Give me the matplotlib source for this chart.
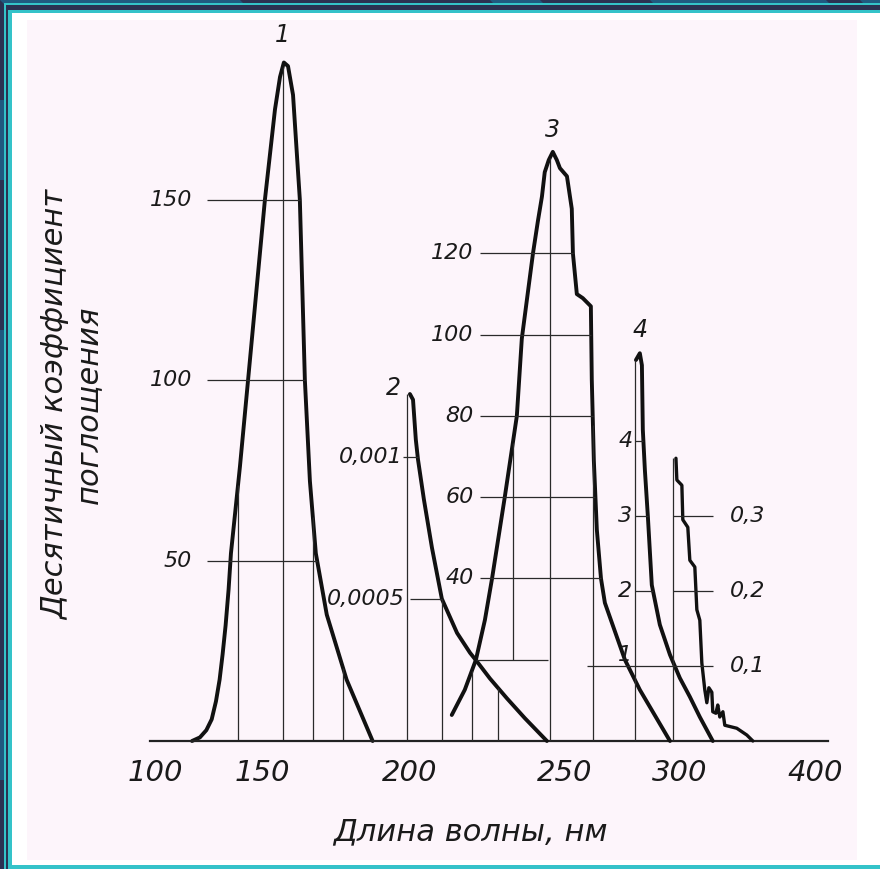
import numpy as np
import matplotlib
matplotlib.use('Agg')
import matplotlib.pyplot as plt
from matplotlib.patches import Rectangle, Polygon

plt.rcParams['font.family'] = ['DejaVu Sans']
plt.rcParams['font.style'] = 'italic'

# wavelength ticks shown under the axis (nm)
wl_ticks = [100, 150, 200, 250, 300, 400]

# curve 1
wl1 = [117.3, 121.0, 124.0, 126.5, 128.5, 130.2, 131.6, 133.0, 134.4, 135.5, 139.7, 143.5,
       151.0, 154.4, 156.1, 157.4, 158.8, 160.5, 162.8, 164.5, 166.2, 168.2, 171.9, 178.6, 187.4]
k1 = [0, 1, 3, 6, 11, 17, 24, 32, 42, 52, 76, 100, 150, 175, 184, 188, 187, 179, 150, 100,
      72, 52, 35, 17, 0]
k1_levels = [50, 100, 150]
k1_labels = ['50', '100', '150']
wl1_vert = [138.8, 157.0, 167.2, 177.4]

# curve 2
wl2 = [200.0, 201.0, 201.9, 202.6, 204.5, 207.1, 210.3, 215.2, 219.4, 221.6, 225.8, 231.3, 237.1, 244.2]
k2 = [0.00122, 0.00120, 0.00106, 0.00099, 0.00085, 0.00068, 0.00050, 0.00038, 0.00031,
      0.00028, 0.00022, 0.00015, 0.00008, 0.0]
k2_levels = [0.0005, 0.001]
k2_labels = ['0,0005', '0,001']
wl2_vert = [199.0, 210.3, 228.4]

# curve 3
wl3 = [213.5, 217.7, 221.3, 224.2, 226.5, 230.6, 234.5, 236.1, 239.7, 241.3, 242.6, 243.5,
       244.8, 246.1, 247.4, 248.4, 250.9, 253.0, 253.5, 255.2, 257.8, 261.3, 261.7, 262.6,
       263.9, 265.7, 267.4, 276.1, 282.6, 295.7]
k3 = [6.4, 12.6, 20, 29.8, 40, 60, 80, 99, 120, 128, 134, 140, 143, 145, 143, 141, 139, 131,
      120, 110, 109, 107, 89, 69, 52, 40, 34, 20, 12.6, 0]
k3_levels = [40, 60, 80, 100, 120]
k3_labels = ['40', '60', '80', '100', '120']
wl3_vert = [220.0, 233.2, 245.2, 262.2]
k3_vert_from = [0, 20, 0, 0]

# curve 4
wl4 = [280.9, 282.6, 283.5, 283.9, 284.8, 286.1, 287.8, 291.3, 295.7, 300.0, 307.4, 314.8, 324.4]
k4 = [5.08, 5.17, 5.01, 4.15, 3.61, 2.99, 2.08, 1.55, 1.15, 0.84, 0.59, 0.32, 0.0]
k4_levels = [1, 2, 3, 4]
k4_labels = ['1', '2', '3', '4']
wl4_vert = [280.4]

# curve without number (right-most)
wl5 = [298.3, 298.7, 301.5, 302.2, 305.9, 307.4, 311.1, 312.6, 314.8, 316.3, 318.5, 320.0,
       321.5, 323.7, 324.4, 326.7, 328.1, 329.6, 331.9, 333.3, 342.2, 349.6, 354.1]
k5 = [0.377, 0.348, 0.341, 0.295, 0.285, 0.241, 0.232, 0.175, 0.161, 0.104, 0.068, 0.051,
      0.071, 0.065, 0.039, 0.037, 0.048, 0.032, 0.039, 0.021, 0.017, 0.008, 0.0]
k5_levels = [0.1, 0.2, 0.3]
k5_labels = ['0,1', '0,2', '0,3']
wl5_vert = [297.0]

# non-linear wavelength axis of the original drawing
scale_wl = [50, 100, 150, 200, 250, 300, 400, 500]
scale_pos = [48, 155, 262, 410, 565, 680, 815, 950]


def fwd(w):
    return np.interp(w, scale_wl, scale_pos)


def inv(p):
    return np.interp(p, scale_pos, scale_wl)


W, H = 880, 869
fig = plt.figure(figsize=(W / 100, H / 100), dpi=100)
fig.patch.set_facecolor('#2b3152')


def px_rect(x0, y0, x1, y1, color):
    fig.add_artist(Rectangle((x0 / W, 1 - y1 / H), (x1 - x0) / W, (y1 - y0) / H,
                             transform=fig.transFigure, facecolor=color, lw=0, zorder=-10))


# frame
for xa, xb in [(0, 240), (490, 540), (650, 826), (860, 900)]:
    fig.add_artist(Polygon([(xa / W, 1), (xb / W, 1), ((xb + 12) / W, 1 - 12 / H), ((xa + 12) / W, 1 - 12 / H)],
                           transform=fig.transFigure, facecolor='#1f5a80', lw=0, zorder=-10))
for ya, yb in [(100, 180), (330, 520), (700, 780)]:
    px_rect(0, ya, 5, yb, '#1f5a80')
px_rect(4, 3, 880, 869, '#34c3c9')
px_rect(6, 5, 880, 869, '#2b3152')
px_rect(8, 10, 880, 869, '#34c3c9')
px_rect(12, 13, 880, 865, '#ffffff')
px_rect(27, 20, 857, 860, '#fdf5fb')

ax_rect = [144.3 / W, 1 - 741 / H, (831 - 144.3) / W, 711 / H]
ylims = [(0, 197), (0, 0.0025), (0, 175), (0, 9.48), (0, 0.948)]
axes = []
for i, yl in enumerate(ylims):
    a = fig.add_axes(ax_rect)
    a.set_xscale('function', functions=(fwd, inv))
    a.set_xlim(95, 412)
    a.set_ylim(*yl)
    a.patch.set_alpha(0)
    if i > 0:
        a.axis('off')
    axes.append(a)
ax1, ax2, ax3, ax4, ax5 = axes

for s in ['top', 'right', 'left']:
    ax1.spines[s].set_visible(False)
ax1.spines['bottom'].set_bounds(97.7, 409.6)
ax1.spines['bottom'].set_linewidth(1.6)
ax1.spines['bottom'].set_color('#222222')
ax1.set_yticks([])
ax1.set_xticks(wl_ticks)
ax1.set_xticklabels([str(t) for t in wl_ticks])
ax1.tick_params(axis='x', length=0, pad=13, labelsize=21, labelcolor='#1a1a1a')

ink = '#111111'
grid = '#2a2a2a'
clw = 2.8
glw = 0.9
lab = 16
style = dict(color=ink, clip_on=False, solid_capstyle='round', solid_joinstyle='round')

# curves
ax1.plot(wl1, k1, lw=clw, **style)
ax2.plot(wl2, k2, lw=clw, **style)
ax3.plot(wl3, k3, lw=clw, **style)
ax4.plot(wl4, k4, lw=clw, **style)
ax5.plot(wl5, k5, lw=2.4, **style)


def right_x(level, wl, k):
    i = int(np.argmax(k))
    return np.interp(level, k[i:][::-1], wl[i:][::-1])


def left_x(level, wl, k):
    i = int(np.argmax(k))
    return np.interp(level, k[:i + 1], wl[:i + 1])


# curve 1 grid
for xv in wl1_vert:
    ax1.vlines(xv, 0, np.interp(xv, wl1, k1), color=grid, lw=glw)
for lv, lb in zip(k1_levels, k1_labels):
    ax1.hlines(lv, 124.3, right_x(lv, wl1, k1), color=grid, lw=glw)
    ax1.text(117.3, lv, lb, ha='right', va='center', fontsize=lab, color='#1a1a1a')

# curve 2 grid
for xv in wl2_vert:
    ax2.vlines(xv, 0, np.interp(xv, wl2, k2), color=grid, lw=glw)
ax2.hlines(k2_levels[0], 200.0, right_x(k2_levels[0], wl2, k2), color=grid, lw=glw)
ax2.hlines(k2_levels[1], 197.6, right_x(k2_levels[1], wl2, k2), color=grid, lw=glw)
ax2.text(198.3, k2_levels[0], k2_labels[0], ha='right', va='center', fontsize=lab, color='#1a1a1a')
ax2.text(197.6, k2_levels[1], k2_labels[1], ha='right', va='center', fontsize=lab, color='#1a1a1a')

# curve 3 grid
for xv, y0 in zip(wl3_vert, k3_vert_from):
    ax3.vlines(xv, y0, np.interp(xv, wl3, k3), color=grid, lw=glw)
for lv, lb in zip(k3_levels, k3_labels):
    ax3.hlines(lv, 222.5, right_x(lv, wl3, k3), color=grid, lw=glw)
    ax3.text(220.6, lv, lb, ha='right', va='center', fontsize=lab, color='#1a1a1a')
ax3.hlines(20, left_x(20, wl3, k3), 244.5, color=grid, lw=glw)

# curve 4 grid
for xv in wl4_vert:
    ax4.vlines(xv, 0, np.interp(xv, wl4, k4), color=grid, lw=glw)
for lv, lb in zip(k4_levels, k4_labels):
    x0 = 259.6 if lv == 1 else 280.4
    ax4.hlines(lv, x0, right_x(lv, wl4, k4), color=grid, lw=glw)
    ax4.text(279.3, lv + (0.15 if lv == 1 else 0), lb, ha='right', va='center',
             fontsize=lab, color='#1a1a1a')

# right-most curve grid
for xv in wl5_vert:
    ax5.vlines(xv, 0, np.interp(xv, wl5, k5), color=grid, lw=glw)
for lv, lb in zip(k5_levels, k5_labels):
    ax5.hlines(lv, 297.0, 324.4, color=grid, lw=glw)
    ax5.text(337.0, lv, lb, ha='left', va='center', fontsize=lab, color='#1a1a1a')

# curve numbers
ax1.text(157.0, 195.6, '1', ha='center', va='center', fontsize=17, color='#1a1a1a')
ax2.text(194.3, 0.00124, '2', ha='center', va='center', fontsize=17, color='#1a1a1a')
ax3.text(246.1, 150.5, '3', ha='center', va='center', fontsize=17, color='#1a1a1a')
ax4.text(282.6, 5.48, '4', ha='center', va='center', fontsize=17, color='#1a1a1a')

fig.text(470 / W, 1 - 832 / H, 'Длина волны, нм', ha='center', va='center',
         fontsize=22, color='#1a1a1a')
fig.text(72 / W, 1 - 405 / H, 'Десятичный коэффициент\nпоглощения', ha='center', va='center',
         rotation=90, multialignment='center', fontsize=22, color='#1a1a1a', linespacing=1.15)

fig.savefig('out.png', dpi=100, facecolor=fig.get_facecolor())
